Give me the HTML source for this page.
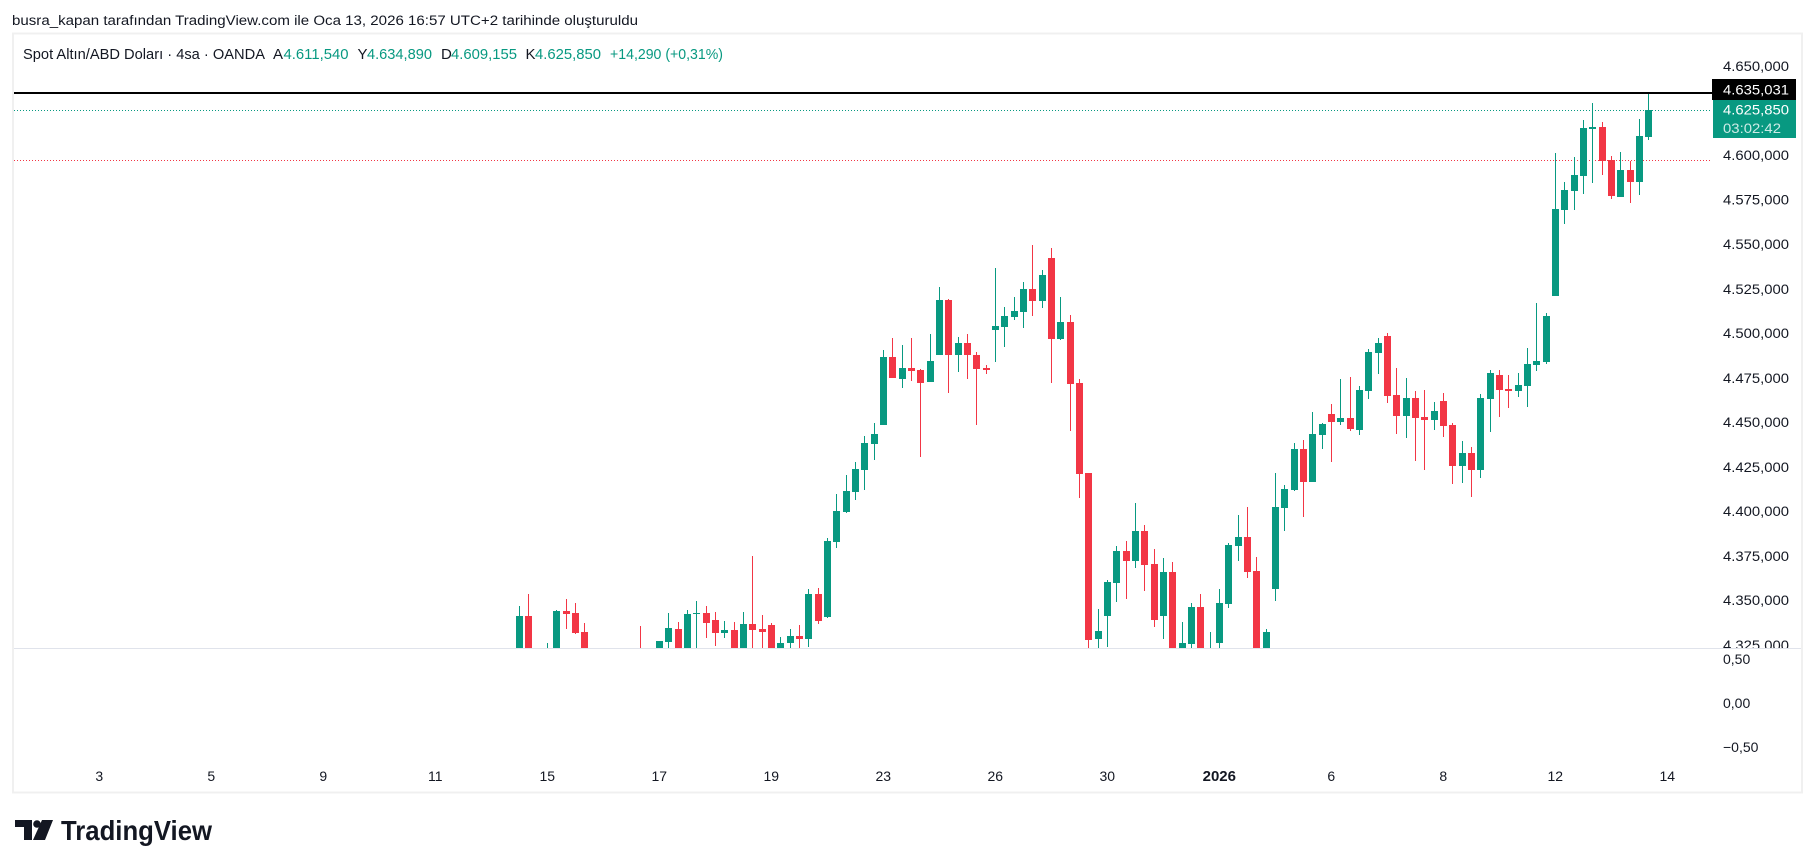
<!DOCTYPE html>
<html><head><meta charset="utf-8"><style>
html,body{margin:0;padding:0;background:#fff;}
svg{display:block;}
text{font-family:"Liberation Sans",sans-serif;}
</style></head><body>
<svg width="1815" height="868" viewBox="0 0 1815 868" xmlns="http://www.w3.org/2000/svg">
<defs>
<clipPath id="mainc"><rect x="14" y="34" width="1787" height="614"/></clipPath>
<clipPath id="lowc"><rect x="14" y="649" width="1787" height="142"/></clipPath>
</defs>
<rect width="1815" height="868" fill="#fff"/>
<text x="12" y="25" font-size="13.5" fill="#131722" textLength="626" lengthAdjust="spacingAndGlyphs">busra_kapan tarafından TradingView.com ile Oca 13, 2026 16:57 UTC+2 tarihinde oluşturuldu</text>
<rect x="13" y="33.5" width="1789" height="759" fill="#fff" stroke="#f0f0f0" stroke-width="2"/>

<!-- legend -->
<text x="23" y="59" font-size="15" fill="#131722" textLength="242" lengthAdjust="spacingAndGlyphs">Spot Altın/ABD Doları · 4sa · OANDA</text>
<text x="273" y="59" font-size="15" fill="#131722">A</text>
<text x="283.5" y="59" font-size="15" fill="#089981" textLength="65" lengthAdjust="spacingAndGlyphs">4.611,540</text>
<text x="357.5" y="59" font-size="15" fill="#131722">Y</text>
<text x="367" y="59" font-size="15" fill="#089981" textLength="65" lengthAdjust="spacingAndGlyphs">4.634,890</text>
<text x="441" y="59" font-size="15" fill="#131722">D</text>
<text x="451" y="59" font-size="15" fill="#089981" textLength="66" lengthAdjust="spacingAndGlyphs">4.609,155</text>
<text x="525.5" y="59" font-size="15" fill="#131722">K</text>
<text x="535" y="59" font-size="15" fill="#089981" textLength="66" lengthAdjust="spacingAndGlyphs">4.625,850</text>
<text x="610" y="59" font-size="15" fill="#089981" textLength="113" lengthAdjust="spacingAndGlyphs">+14,290 (+0,31%)</text>

<!-- horizontal lines -->
<rect x="14" y="92" width="1698" height="2" fill="#000"/>
<line x1="14" y1="110.5" x2="1712" y2="110.5" stroke="#089981" stroke-width="1" stroke-dasharray="1 2"/>
<line x1="14" y1="160.5" x2="1712" y2="160.5" stroke="#f23645" stroke-width="1" stroke-dasharray="1 2"/>

<g clip-path="url(#mainc)">
<path fill="#089981" d="M519 606h1V648h-1zM516 616h7V648h-7zM547 643h1V648h-1zM556 610h1V648h-1zM553 611h7V648h-7zM656 641h7V648h-7zM668 613h1V648h-1zM665 628h7V642h-7zM687 610h1V648h-1zM684 614h7V648h-7zM696 601h1V648h-1zM693 613h7V614h-7zM724 621h1V638h-1zM721 630h7V633h-7zM743 612h1V648h-1zM740 624h7V648h-7zM780 637h1V648h-1zM777 643h7V648h-7zM790 629h1V648h-1zM787 636h7V643h-7zM808 589h1V647h-1zM805 594h7V639h-7zM827 538h1V618h-1zM824 541h7V617h-7zM836 494h1V548h-1zM833 511h7V542h-7zM846 475h1V513h-1zM843 491h7V512h-7zM855 462h1V500h-1zM852 469h7V492h-7zM864 436h1V490h-1zM861 443h7V470h-7zM874 423h1V460h-1zM871 434h7V444h-7zM883 350h1V425h-1zM880 357h7V425h-7zM902 345h1V388h-1zM899 368h7V379h-7zM930 334h1V382h-1zM927 361h7V382h-7zM939 287h1V355h-1zM936 300h7V355h-7zM958 337h1V372h-1zM955 343h7V355h-7zM995 268h1V362h-1zM992 326h7V330h-7zM1004 307h1V347h-1zM1001 316h7V327h-7zM1014 297h1V320h-1zM1011 311h7V317h-7zM1023 282h1V328h-1zM1020 289h7V312h-7zM1042 270h1V308h-1zM1039 275h7V301h-7zM1060 297h1V340h-1zM1057 322h7V339h-7zM1098 609h1V648h-1zM1095 631h7V639h-7zM1107 580h1V647h-1zM1104 582h7V616h-7zM1116 546h1V602h-1zM1113 551h7V583h-7zM1135 503h1V568h-1zM1132 531h7V561h-7zM1163 558h1V639h-1zM1160 572h7V616h-7zM1182 622h1V648h-1zM1179 643h7V648h-7zM1191 603h1V648h-1zM1188 607h7V644h-7zM1210 632h1V648h-1zM1219 589h1V648h-1zM1216 603h7V643h-7zM1228 543h1V608h-1zM1225 545h7V604h-7zM1238 515h1V561h-1zM1235 537h7V546h-7zM1266 629h1V648h-1zM1263 632h7V648h-7zM1275 473h1V601h-1zM1272 507h7V589h-7zM1284 485h1V531h-1zM1281 489h7V508h-7zM1294 443h1V491h-1zM1291 449h7V490h-7zM1312 412h1V482h-1zM1309 434h7V482h-7zM1322 423h1V449h-1zM1319 424h7V435h-7zM1340 379h1V425h-1zM1337 418h7V422h-7zM1359 386h1V435h-1zM1356 390h7V430h-7zM1368 349h1V399h-1zM1365 352h7V391h-7zM1378 338h1V374h-1zM1375 343h7V353h-7zM1406 378h1V438h-1zM1403 398h7V416h-7zM1434 402h1V430h-1zM1431 411h7V420h-7zM1462 441h1V483h-1zM1459 453h7V466h-7zM1480 394h1V478h-1zM1477 398h7V470h-7zM1490 370h1V432h-1zM1487 373h7V399h-7zM1518 373h1V397h-1zM1515 385h7V391h-7zM1527 348h1V407h-1zM1524 364h7V386h-7zM1536 303h1V371h-1zM1533 361h7V365h-7zM1546 313h1V364h-1zM1543 316h7V362h-7zM1555 153h1V296h-1zM1552 209h7V296h-7zM1564 182h1V224h-1zM1561 190h7V210h-7zM1574 157h1V210h-1zM1571 175h7V191h-7zM1583 120h1V194h-1zM1580 128h7V176h-7zM1592 103h1V183h-1zM1589 127h7V129h-7zM1620 152h1V197h-1zM1617 170h7V197h-7zM1639 119h1V195h-1zM1636 136h7V182h-7zM1648 94h1V140h-1zM1645 110h7V137h-7z"/>
<path fill="#f23645" d="M528 594h1V648h-1zM525 616h7V648h-7zM566 599h1V629h-1zM563 611h7V614h-7zM575 603h1V634h-1zM572 613h7V633h-7zM584 623h1V648h-1zM581 632h7V648h-7zM640 626h1V648h-1zM678 622h1V648h-1zM675 629h7V648h-7zM706 606h1V638h-1zM703 613h7V623h-7zM715 612h1V646h-1zM712 620h7V633h-7zM734 622h1V648h-1zM731 630h7V648h-7zM752 556h1V648h-1zM749 624h7V630h-7zM762 615h1V648h-1zM759 629h7V632h-7zM771 623h1V648h-1zM768 625h7V648h-7zM799 625h1V648h-1zM796 636h7V639h-7zM818 588h1V624h-1zM815 594h7V621h-7zM892 338h1V378h-1zM889 357h7V378h-7zM911 338h1V381h-1zM908 368h7V371h-7zM920 369h1V457h-1zM917 370h7V383h-7zM948 299h1V393h-1zM945 300h7V355h-7zM967 334h1V379h-1zM964 343h7V355h-7zM976 352h1V425h-1zM973 355h7V369h-7zM986 365h1V374h-1zM983 368h7V370h-7zM1032 245h1V316h-1zM1029 289h7V301h-7zM1051 248h1V383h-1zM1048 258h7V339h-7zM1070 315h1V431h-1zM1067 322h7V384h-7zM1079 379h1V498h-1zM1076 383h7V474h-7zM1088 473h1V648h-1zM1085 473h7V640h-7zM1126 541h1V599h-1zM1123 551h7V561h-7zM1144 525h1V591h-1zM1141 531h7V565h-7zM1154 549h1V627h-1zM1151 564h7V620h-7zM1172 562h1V648h-1zM1169 572h7V648h-7zM1200 594h1V648h-1zM1197 607h7V648h-7zM1247 507h1V578h-1zM1244 537h7V572h-7zM1256 557h1V648h-1zM1253 571h7V648h-7zM1303 440h1V517h-1zM1300 449h7V482h-7zM1331 404h1V462h-1zM1328 414h7V422h-7zM1350 377h1V431h-1zM1347 418h7V429h-7zM1387 333h1V403h-1zM1384 336h7V396h-7zM1396 368h1V434h-1zM1393 395h7V416h-7zM1415 391h1V461h-1zM1412 398h7V418h-7zM1424 390h1V470h-1zM1421 417h7V420h-7zM1443 393h1V437h-1zM1440 401h7V426h-7zM1452 423h1V484h-1zM1449 425h7V466h-7zM1471 447h1V497h-1zM1468 453h7V470h-7zM1499 370h1V417h-1zM1496 375h7V390h-7zM1508 375h1V408h-1zM1505 389h7V391h-7zM1602 122h1V175h-1zM1599 127h7V161h-7zM1611 156h1V199h-1zM1608 160h7V196h-7zM1630 161h1V203h-1zM1627 170h7V182h-7z"/>

<!-- price axis labels (main pane) -->
<g font-size="14" fill="#131722">
<text x="1723" y="71" textLength="66" lengthAdjust="spacingAndGlyphs">4.650,000</text>
<text x="1723" y="160" textLength="66" lengthAdjust="spacingAndGlyphs">4.600,000</text>
<text x="1723" y="204.6" textLength="66" lengthAdjust="spacingAndGlyphs">4.575,000</text>
<text x="1723" y="249" textLength="66" lengthAdjust="spacingAndGlyphs">4.550,000</text>
<text x="1723" y="294" textLength="66" lengthAdjust="spacingAndGlyphs">4.525,000</text>
<text x="1723" y="338" textLength="66" lengthAdjust="spacingAndGlyphs">4.500,000</text>
<text x="1723" y="383" textLength="66" lengthAdjust="spacingAndGlyphs">4.475,000</text>
<text x="1723" y="427" textLength="66" lengthAdjust="spacingAndGlyphs">4.450,000</text>
<text x="1723" y="472" textLength="66" lengthAdjust="spacingAndGlyphs">4.425,000</text>
<text x="1723" y="516" textLength="66" lengthAdjust="spacingAndGlyphs">4.400,000</text>
<text x="1723" y="561" textLength="66" lengthAdjust="spacingAndGlyphs">4.375,000</text>
<text x="1723" y="605" textLength="66" lengthAdjust="spacingAndGlyphs">4.350,000</text>
<text x="1723" y="650" textLength="66" lengthAdjust="spacingAndGlyphs">4.325,000</text>
</g>
</g>

<!-- price labels -->
<rect x="1712" y="79" width="84" height="21" fill="#000"/>
<text x="1723" y="94.5" font-size="14" fill="#fff" textLength="66" lengthAdjust="spacingAndGlyphs">4.635,031</text>
<rect x="1713" y="100" width="83" height="38" fill="#089981"/>
<text x="1723" y="114.5" font-size="14" fill="#fff" textLength="66" lengthAdjust="spacingAndGlyphs">4.625,850</text>
<text x="1723" y="133" font-size="14" fill="#ffffff" fill-opacity="0.8" textLength="58" lengthAdjust="spacingAndGlyphs">03:02:42</text>

<!-- pane separator -->
<rect x="14" y="648" width="1787" height="1" fill="#e0e3eb"/>

<g clip-path="url(#lowc)" font-size="14" fill="#131722">
<text x="1723" y="664">0,50</text>
<text x="1723" y="708">0,00</text>
<text x="1723" y="752">−0,50</text>
</g>

<!-- time axis -->
<g font-size="14" fill="#131722" text-anchor="middle">
<text x="99.3" y="781">3</text>
<text x="211.3" y="781">5</text>
<text x="323.3" y="781">9</text>
<text x="435.3" y="781">11</text>
<text x="547.3" y="781">15</text>
<text x="659.3" y="781">17</text>
<text x="771.3" y="781">19</text>
<text x="883.3" y="781">23</text>
<text x="995.3" y="781">26</text>
<text x="1107.3" y="781">30</text>
<text x="1219.3" y="781" font-weight="bold" font-size="15">2026</text>
<text x="1331.3" y="781">6</text>
<text x="1443.3" y="781">8</text>
<text x="1555.3" y="781">12</text>
<text x="1667.3" y="781">14</text>
</g>

<!-- logo -->
<g fill="#131722">
<rect x="15" y="820" width="17" height="7"/>
<rect x="24" y="820" width="8" height="20"/>
<circle cx="37" cy="824" r="3.8"/>
<polygon points="42,820 53,820 45,840 33,840"/>
</g>
<text x="61" y="840" font-size="27.5" font-weight="bold" fill="#131722" textLength="151" lengthAdjust="spacingAndGlyphs">TradingView</text>
</svg>
</body></html>
